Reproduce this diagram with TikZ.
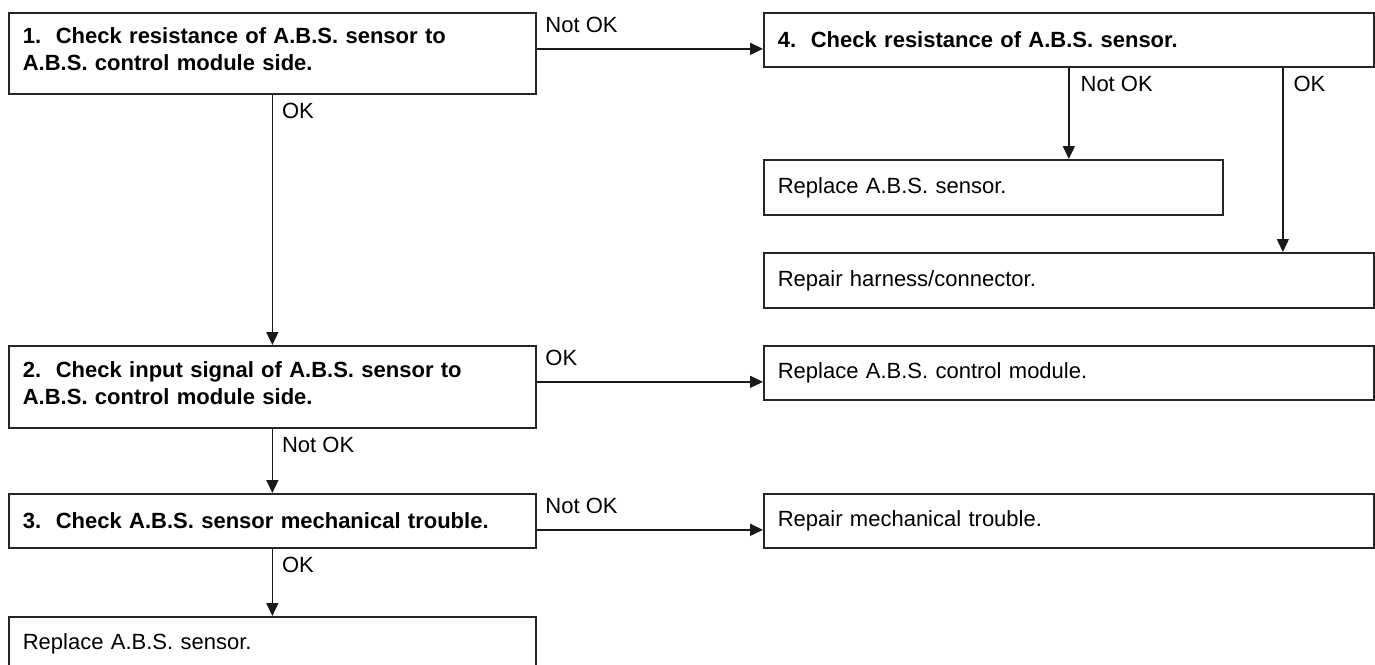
\documentclass[tikz,border=0pt]{standalone}
\usepackage{fontspec}
\setmainfont{Liberation Sans}
\usetikzlibrary{arrows.meta, positioning, calc}

\begin{document}
\begin{tikzpicture} [
    x=1pt, y=-1pt,
    checkbox/.style={rectangle, draw=black!85, line width=1.7pt, anchor=north west, inner xsep=14pt, inner ysep=0pt, font=\fontsize{22}{27}\selectfont\bfseries, align=left},
    actionbox/.style={checkbox, font=\fontsize{22}{27}\selectfont},
    twoline/.style={text height=16pt, text depth=35pt},
    lcol/.style={text width=499pt, minimum width=527pt},
    rcol/.style={text width=582pt, minimum width=610pt},
    arrow/.style={-{Triangle[length=13pt, width=12pt]}, line width=1.5pt, draw=black!90},
    lbl/.style={font=\fontsize{22}{27}\selectfont, inner sep=0pt, anchor=base west}
]

% frame of the page
\useasboundingbox (0,0) rectangle (1375,664);
\clip (0,0) rectangle (1375,664);

% LAYER 1: left column, the checks
\node[checkbox, lcol, twoline, minimum height=81pt] (step1) at (8,12) {
    1.\ \ Check resistance of A.B.S. sensor to\\
    A.B.S. control module side.
};

\node[checkbox, lcol, twoline, minimum height=82pt] (step2) at (8,345) {
    2.\ \ Check input signal of A.B.S. sensor to\\
    A.B.S. control module side.
};

\node[checkbox, lcol, minimum height=54pt] (step3) at (8,493) {
    3.\ \ Check A.B.S. sensor mechanical trouble.
};

\node[actionbox, lcol, minimum height=54pt] (sensL) at (8,616) {
    Replace A.B.S. sensor.
};

% LAYER 2: right column
\node[checkbox, rcol, minimum height=54pt] (step4) at (763,12) {
    4.\ \ Check resistance of A.B.S. sensor.
};

\node[actionbox, text width=431pt, minimum width=459pt, minimum height=55pt] (sensR) at (763,159) {
    Replace A.B.S. sensor.
};

\node[actionbox, rcol, minimum height=55pt] (harness) at (763,252) {
    Repair harness/connector.
};

\node[actionbox, rcol, minimum height=54pt] (module) at (763,345) {
    Replace A.B.S. control module.
};

\node[actionbox, rcol, minimum height=54pt] (mech) at (763,493) {
    Repair mechanical trouble.
};

% LAYER 3: connectors with their labels
\draw[arrow] ([yshift=4.5pt]step1.east) -- node[lbl, pos=0, xshift=8pt, yshift=16pt] {Not OK} ([yshift=4.5pt]step1.east -| step4.west);
\draw[arrow] (step1.south) -- node[lbl, pos=0, xshift=9pt, yshift=-24pt] {OK} (step2.north);

\draw[arrow] (step4.south) -- node[lbl, pos=0, xshift=11pt, yshift=-24pt] {Not OK} (step4.south |- sensR.north);
\draw[arrow] ([xshift=214pt]step4.south) -- node[lbl, pos=0, xshift=10pt, yshift=-24pt] {OK} ([xshift=214pt]step4.south |- harness.north);

\draw[arrow] ([yshift=5pt]step2.east) -- node[lbl, pos=0, xshift=8pt, yshift=16pt] {OK} ([yshift=5pt]step2.east -| module.west);
\draw[arrow] (step2.south) -- node[lbl, pos=0, xshift=9pt, yshift=-24pt] {Not OK} (step3.north);

\draw[arrow] ([yshift=-9pt]step3.east) -- node[lbl, pos=0, xshift=8pt, yshift=16pt] {Not OK} ([yshift=-9pt]step3.east -| mech.west);
\draw[arrow] (step3.south) -- node[lbl, pos=0, xshift=9pt, yshift=-24pt] {OK} (sensL.north);

\end{tikzpicture}
\end{document}
